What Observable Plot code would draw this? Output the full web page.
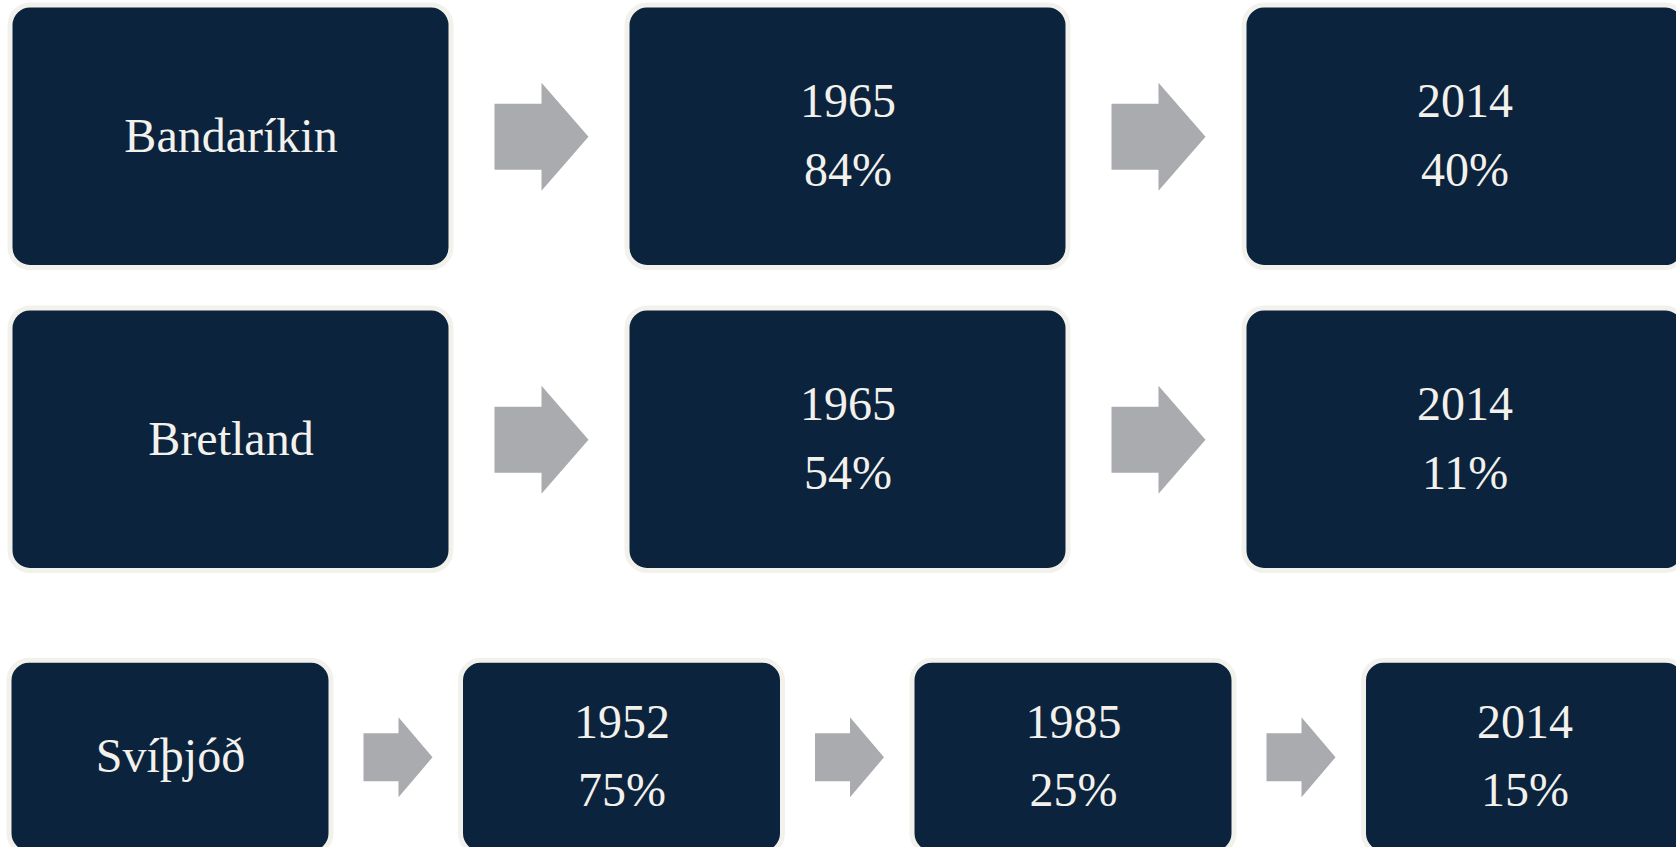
<!DOCTYPE html>
<html>
<head>
<meta charset="utf-8">
<script src="https://cdn.jsdelivr.net/npm/d3@7"></script>
<script src="https://cdn.jsdelivr.net/npm/@observablehq/plot@0.6"></script>
<style>
  html, body { margin: 0; padding: 0; background: #ffffff; overflow: hidden; }
  #chart svg { display: block; }
</style>
</head>
<body>
<div id="chart"></div>
<script>
// ---- data ----
const countries = ["Bandaríkin", "Bretland", "Svíþjóð"];
const years = [[1965, 2014], [1965, 2014], [1952, 1985, 2014]];
const shares = [[84, 40], [54, 11], [75, 25, 15]];

// ---- layout (pixels) ----
const W = 1676, H = 847;
const rowTop = [5, 308, 660.3];
const rowHeight = [262.5, 262.5, 193];
// per number of boxes in a row: left start, box width, pitch, arrow geometry
const layout = {
  3: {x0: 10, boxW: 441, pitch: 617, arrowOff: 43, arrowL: 94, headL: 47, headH: 108, shaftH: 66},
  4: {x0: 9, boxW: 322, pitch: 451.5, arrowOff: 32, arrowL: 69, headL: 34, headH: 80, shaftH: 48}
};

const boxes = [];
const arrows = [];
countries.forEach((c, r) => {
  const labels = [c, ...years[r].map((y, j) => `${y}\n${shares[r][j]}%`)];
  const L = layout[labels.length];
  const top = rowTop[r], h = rowHeight[r], cy = top + h / 2;
  labels.forEach((lab, i) => {
    const x1 = L.x0 + i * L.pitch;
    boxes.push({x1, x2: x1 + L.boxW, y1: top, y2: top + h, cx: x1 + L.boxW / 2, cy, label: lab});
    if (i < labels.length - 1) {
      const a = x1 + L.boxW + L.arrowOff;
      const b = a + L.arrowL - L.headL;
      const t = a + L.arrowL;
      const id = `${r}-${i}`;
      [[a, cy - L.shaftH / 2], [b, cy - L.shaftH / 2], [b, cy - L.headH / 2], [t, cy],
       [b, cy + L.headH / 2], [b, cy + L.shaftH / 2], [a, cy + L.shaftH / 2]]
        .forEach(([x, y]) => arrows.push({id, x, y}));
    }
  });
});

const chart = Plot.plot({
  width: W,
  height: H,
  margin: 0,
  style: {background: "#ffffff", overflow: "hidden"},
  x: {domain: [0, W], axis: null},
  y: {domain: [0, H], reverse: true, axis: null},
  marks: [
    Plot.rect(boxes, {
      x1: "x1", x2: "x2", y1: "y1", y2: "y2",
      rx: 20, ry: 20,
      fill: "#0b233d", stroke: "#f3f1ec", strokeWidth: 5
    }),
    Plot.line(arrows, {
      x: "x", y: "y", z: "id",
      curve: "linear-closed",
      fill: "#aaabae", stroke: "none"
    }),
    Plot.text(boxes, {
      x: "cx", y: "cy", text: "label",
      fill: "#f3f1ec",
      fontFamily: "'Liberation Serif', 'Times New Roman', serif",
      fontSize: 48,
      lineHeight: 1.42,
      lineAnchor: "middle",
      textAnchor: "middle",
      dy: -7
    })
  ]
});
document.getElementById("chart").appendChild(chart);
</script>
</body>
</html>
